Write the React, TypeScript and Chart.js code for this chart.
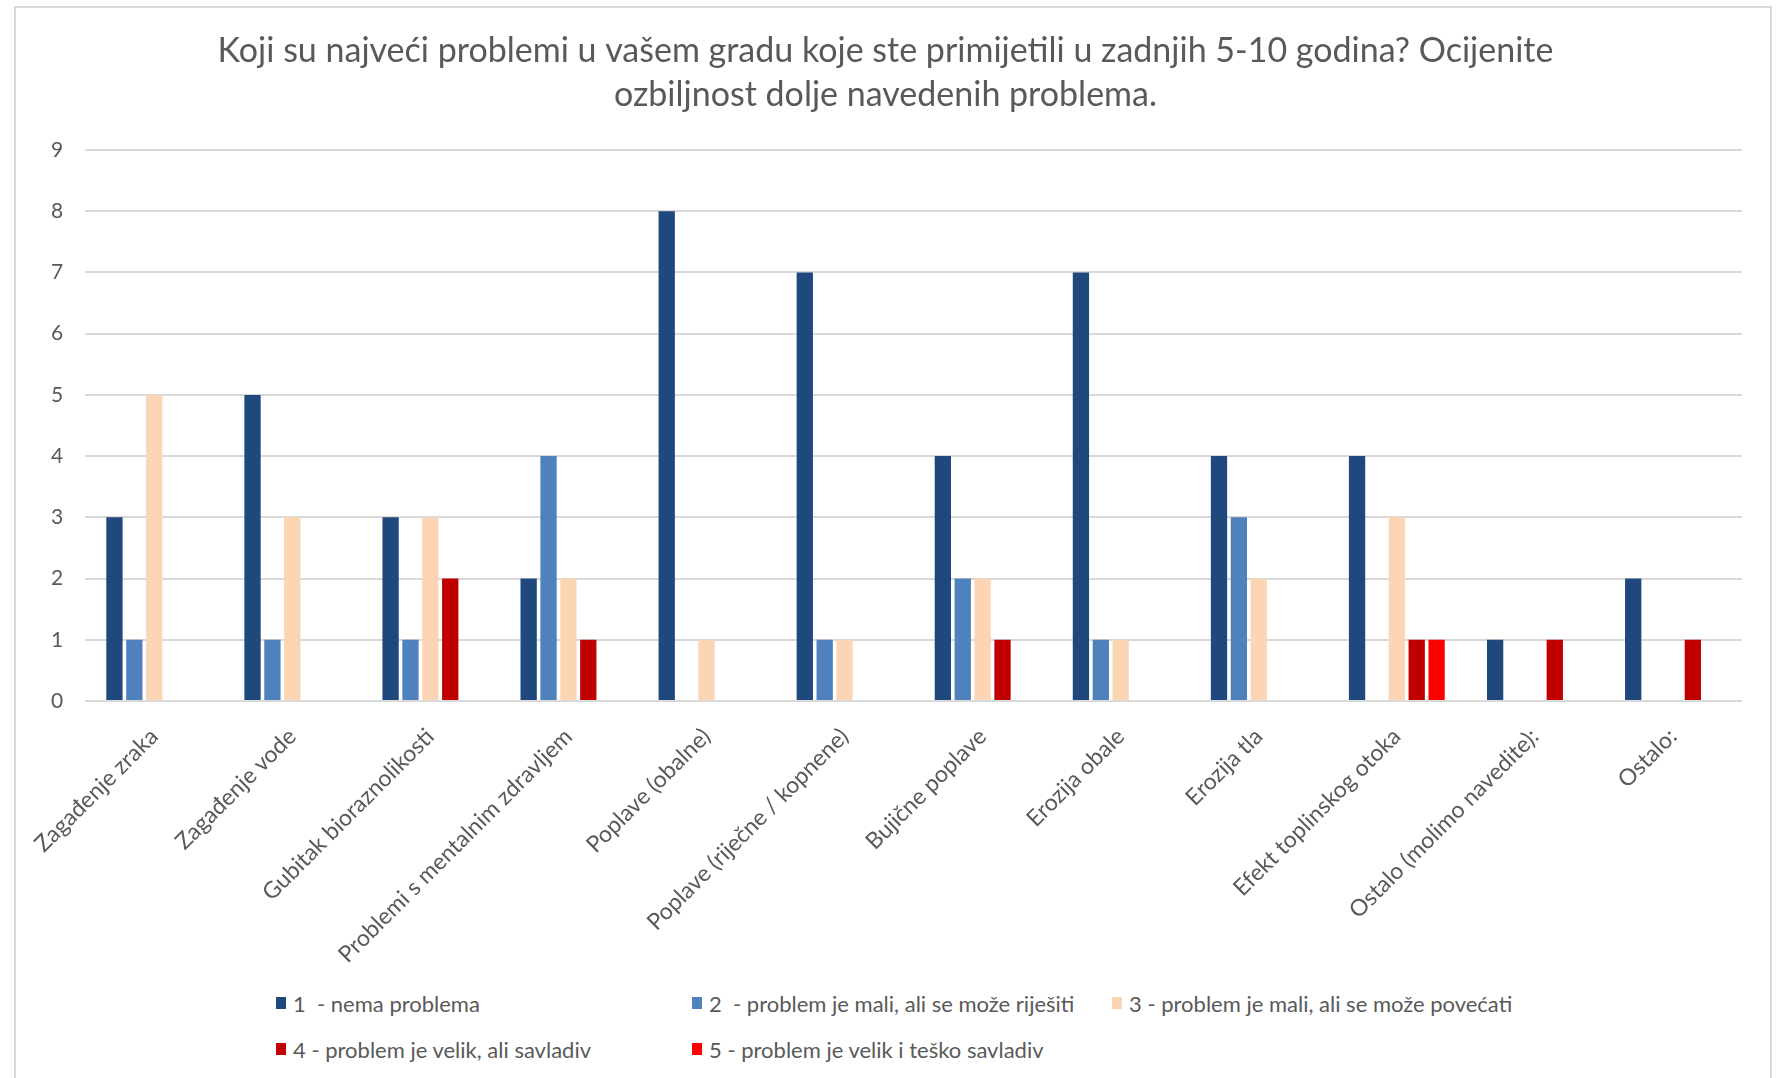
import React, { useEffect, useRef } from "react";
import { Chart, registerables } from "chart.js";

Chart.register(...registerables);

const categories = [
  "Zagađenje zraka",
  "Zagađenje vode",
  "Gubitak bioraznolikosti",
  "Problemi s mentalnim zdravljem",
  "Poplave (obalne)",
  "Poplave (riječne / kopnene)",
  "Bujične poplave",
  "Erozija obale",
  "Erozija tla",
  "Efekt toplinskog otoka",
  "Ostalo (molimo navedite):",
  "Ostalo:",
];

const seriesNames = [
  "1  - nema problema",
  "2  - problem je mali, ali se može riješiti",
  "3 - problem je mali, ali se može povećati",
  "4 - problem je velik, ali savladiv",
  "5 - problem je velik i teško savladiv",
];

const s1 = [3, 5, 3, 2, 8, 7, 4, 7, 4, 4, 1, 2];
const s2 = [1, 1, 1, 4, 0, 1, 2, 1, 3, 0, 0, 0];
const s3 = [5, 3, 3, 2, 1, 1, 2, 1, 2, 3, 0, 0];
const s4 = [0, 0, 2, 1, 0, 0, 1, 0, 0, 1, 1, 1];
const s5 = [0, 0, 0, 0, 0, 0, 0, 0, 0, 1, 0, 0];
const seriesValues = [s1, s2, s3, s4, s5];

const colors = ["#1F497D", "#4F81BD", "#FCD5B5", "#C00000", "#FF0000"];

const yMin = 0;
const yMax = 9;
const yStep = 1;

const titleLines = [
  "Koji su najveći problemi u vašem gradu koje ste primijetili u zadnjih 5-10 godina? Ocijenite",
  "ozbiljnost dolje navedenih problema.",
];

const FONT = "Lato";
const TEXT = "#595959";

export default function App() {
  const ref = useRef<HTMLCanvasElement>(null);

  useEffect(() => {
    document.body.style.margin = "0";
    const ctx = ref.current;
    if (!ctx) return;
    const chart = new Chart(ctx, {
      type: "bar",
      data: {
        labels: categories,
        datasets: seriesValues.map((vals, i) => ({
          label: seriesNames[i],
          data: vals,
          backgroundColor: colors[i],
          borderWidth: 0,
          categoryPercentage: 0.72,
          barPercentage: 0.82,
        })),
      },
      options: {
        responsive: false,
        animation: false,
        devicePixelRatio: 1,
        layout: { padding: { left: 29, right: 38, top: 0, bottom: 0 } },
        plugins: {
          legend: { display: false },
          tooltip: { enabled: false },
          title: {
            display: true,
            text: titleLines,
            color: TEXT,
            font: { family: FONT, size: 34, weight: "normal", lineHeight: 44 / 34 },
            padding: { top: 29, bottom: 33 },
          },
        },
        scales: {
          x: {
            grid: { display: false, drawTicks: false },
            border: { display: false },
            ticks: {
              autoSkip: false,
              maxRotation: 45,
              minRotation: 45,
              color: TEXT,
              padding: 22,
              font: { family: FONT, size: 23 },
            },
            afterFit: (scale: any) => {
              scale.height = 274;
            },
          },
          y: {
            min: yMin,
            max: yMax,
            ticks: {
              stepSize: yStep,
              color: TEXT,
              padding: 22,
              font: { family: FONT, size: 21 },
            },
            grid: { color: "#D9D9D9", lineWidth: 2, drawTicks: false },
            border: { display: false },
          },
        },
      },
    });
    return () => chart.destroy();
  }, []);

  const legendPos = [
    { left: 276, top: 1003 },
    { left: 692, top: 1003 },
    { left: 1112, top: 1003 },
    { left: 276, top: 1049 },
    { left: 692, top: 1049 },
  ];

  return (
    <div
      style={{
        position: "relative",
        width: 1780,
        height: 1078,
        overflow: "hidden",
        background: "#fff",
        fontFamily: FONT,
      }}
    >
      <div
        style={{
          position: "absolute",
          left: 14,
          top: 6,
          width: 1758,
          height: 1120,
          border: "2px solid #D9D9D9",
          boxSizing: "border-box",
        }}
      />
      <canvas
        ref={ref}
        width={1780}
        height={975}
        style={{ position: "absolute", left: 0, top: 0 }}
      />
      {seriesNames.map((name, i) => (
        <div
          key={name}
          style={{
            position: "absolute",
            left: legendPos[i].left,
            top: legendPos[i].top - 14,
            height: 28,
            display: "flex",
            alignItems: "center",
            color: TEXT,
            fontSize: 22,
            whiteSpace: "pre",
          }}
        >
          <span
            style={{
              display: "inline-block",
              width: 10,
              height: 12,
              background: colors[i],
              marginRight: 7,
            }}
          />
          <span>{name}</span>
        </div>
      ))}
    </div>
  );
}
